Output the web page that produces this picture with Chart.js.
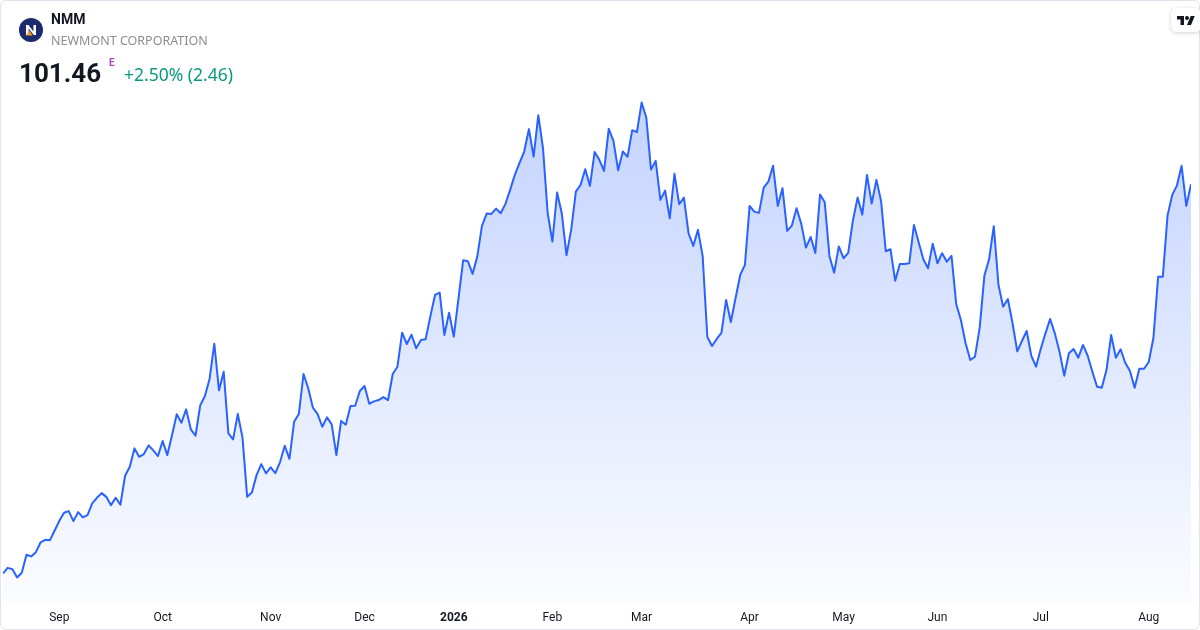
<!DOCTYPE html>
<html>
<head>
<meta charset="utf-8">
<title>NMM</title>
<script src="https://cdn.jsdelivr.net/npm/chart.js@4"></script>
<style>
  html, body { margin: 0; padding: 0; background: #fff; }
  body { width: 1200px; height: 630px; position: relative; overflow: hidden; font-family: Roboto, "Noto Sans", sans-serif; }
  .card { position: absolute; left: 0; top: 0; width: 1200px; height: 630px; box-sizing: border-box; border: 1px solid #e0e3eb; border-radius: 6px; }
  #chart { position: absolute; left: 0; top: 0; }
  .logo { position: absolute; left: 19px; top: 18px; width: 24px; height: 24px; }
  .ticker { position: absolute; left: 51px; top: 11px; font-size: 14px; font-weight: bold; color: #131722; }
  .name { position: absolute; left: 51px; top: 32px; font-family: "Noto Sans", sans-serif; font-size: 12.5px; color: #8a8d96; }
  .price { position: absolute; left: 19px; top: 58px; font-size: 26px; font-weight: bold; color: #131722; }
  .flag { position: absolute; left: 109px; top: 57px; font-size: 10px; font-weight: bold; color: #ab47bc; }
  .change { position: absolute; left: 124px; top: 62px; font-family: "Noto Sans", sans-serif; font-size: 17.5px; color: #089981; }
  .tv { position: absolute; left: 1171px; top: 8px; width: 30px; height: 24px; background: #fff; border-radius: 6px; box-shadow: 0 1px 4px rgba(0,0,0,0.18); }
  .tv svg { position: absolute; left: 6px; top: 6px; }
</style>
</head>
<body>
<div class="card"></div>
<canvas id="chart" width="1200" height="630"></canvas>

<svg class="logo" viewBox="0 0 24 24">
  <circle cx="12" cy="12" r="12" fill="#1c2a6e"/>
  <path d="M7 17V7h2.4l5 6.6V7H17v10h-2.3L9.6 10.3V17z" fill="#fff"/>
  <path d="M7.2 17.6l3.2-5 3.2 5z" fill="#f59a2c"/>
</svg>
<div class="ticker">NMM</div>
<div class="name">NEWMONT CORPORATION</div>
<div class="price">101.46</div>
<div class="flag">E</div>
<div class="change">+2.50% (2.46)</div>
<div class="tv">
  <svg width="18" height="12" viewBox="0 0 36 24">
    <path d="M14 22H7V11H0V4h14v18zM28 22h-8l7.5-18h8L28 22z" fill="#131722"/>
    <circle cx="20" cy="8" r="4" fill="#131722"/>
  </svg>
</div>

<script>
// daily closes (Aug 2025 -> Aug 2026)
const closes = [
  57.35, 57.98, 57.83, 56.89, 57.42, 59.46, 59.28, 59.76, 60.86, 61.16,
  61.12, 62.22, 63.31, 64.22, 64.41, 63.28, 64.30, 63.70, 63.96, 65.29,
  65.92, 66.45, 66.03, 65.09, 65.92, 65.13, 68.42, 69.44, 71.52, 70.57,
  70.88, 71.86, 71.30, 70.65, 72.35, 70.76, 73.03, 75.38, 74.43, 75.94,
  73.68, 72.95, 76.40, 77.45, 79.42, 83.38, 78.10, 80.21, 73.22, 72.54,
  75.41, 72.77, 66.03, 66.53, 68.49, 69.74, 68.69, 69.37, 68.72, 69.97,
  71.82, 70.34, 74.54, 75.41, 79.95, 78.33, 76.13, 75.41, 73.97, 75.04,
  74.24, 70.76, 74.62, 74.20, 76.32, 76.35, 78.02, 78.59, 76.58, 76.85,
  77.00, 77.34, 77.00, 79.95, 80.78, 84.63, 83.35, 84.40, 82.86, 83.80,
  83.88, 86.45, 88.91, 89.17, 84.37, 86.90, 84.18, 88.53, 92.84, 92.73,
  91.29, 93.25, 96.73, 98.13, 98.09, 98.69, 98.17, 99.23, 100.81, 102.51,
  103.88, 105.16, 107.70, 104.59, 109.28, 105.54, 98.17, 94.95, 100.51, 98.17,
  93.41, 96.28, 100.62, 101.38, 103.16, 101.27, 105.12, 104.22, 102.97, 107.73,
  106.37, 103.05, 105.16, 104.56, 107.58, 107.36, 110.71, 109.01, 103.12, 104.10,
  99.68, 100.73, 97.60, 102.63, 99.19, 99.94, 95.90, 94.46, 96.28, 93.33,
  84.14, 83.12, 83.92, 84.60, 88.34, 85.84, 88.53, 91.17, 92.31, 99.00,
  98.35, 98.21, 101.07, 101.75, 103.54, 99.00, 101.01, 96.16, 96.77, 98.74,
  96.96, 94.27, 95.48, 93.67, 100.30, 99.42, 93.33, 91.44, 94.41, 93.07,
  93.67, 97.35, 99.94, 98.01, 102.51, 99.26, 101.95, 99.57, 93.86, 94.09,
  90.53, 92.42, 92.42, 92.50, 96.84, 94.88, 92.95, 91.93, 94.72, 92.50,
  93.64, 92.68, 93.33, 87.89, 86.07, 83.43, 81.54, 81.91, 85.20, 91.10,
  92.95, 96.70, 90.04, 87.58, 88.45, 85.70, 82.52, 83.69, 84.82, 81.99,
  80.78, 82.78, 84.56, 86.19, 84.56, 82.48, 79.76, 82.30, 82.78, 81.80,
  83.24, 82.02, 80.21, 78.51, 78.39, 80.40, 84.37, 81.80, 82.75, 81.23,
  80.29, 78.39, 80.55, 80.55, 81.31, 84.06, 90.98, 90.98, 97.90, 100.25,
  101.30, 103.54, 99.00, 101.46
];

// month labels and the bar index where each month starts
const monthLabels = ['Sep', 'Oct', 'Nov', 'Dec', '2026', 'Feb', 'Mar', 'Apr', 'May', 'Jun', 'Jul', 'Aug'];
const monthTicks = [12, 34, 57, 77, 96, 117, 136, 159, 179, 199, 221, 244];

// price range shown on the (hidden) y axis
const priceMin = 54;
const priceMax = 111;

document.addEventListener('DOMContentLoaded', function() {
  Chart.defaults.font.family = 'Roboto, "Noto Sans", sans-serif';

  const points = closes.map(function(v, i) { return { x: i, y: v }; });

  const ctx = document.getElementById('chart').getContext('2d');
  new Chart(ctx, {
    type: 'line',
    data: {
      datasets: [{
        data: points,
        borderColor: '#2962ff',
        borderWidth: 2,
        pointRadius: 0,
        tension: 0,
        borderJoinStyle: 'round',
        fill: 'start',
        backgroundColor: function(c) {
          const area = c.chart.chartArea;
          if (!area) return 'rgba(41,98,255,0.1)';
          const g = c.chart.ctx.createLinearGradient(0, area.top, 0, area.bottom);
          g.addColorStop(0, 'rgba(41,98,255,0.28)');
          g.addColorStop(1, 'rgba(41,98,255,0.02)');
          return g;
        }
      }]
    },
    options: {
      responsive: false,
      devicePixelRatio: 1,
      animation: false,
      layout: { padding: { top: 100, left: 3, right: 9, bottom: 0 } },
      scales: {
        x: {
          type: 'linear',
          min: 0,
          max: closes.length - 1,
          grid: { display: false, drawTicks: false },
          border: { display: false },
          afterBuildTicks: function(scale) {
            scale.ticks = monthTicks.map(function(v) { return { value: v }; });
          },
          afterFit: function(scale) { scale.height = 27; },
          ticks: {
            autoSkip: false,
            maxRotation: 0,
            padding: 8,
            color: '#131722',
            font: function(c) {
              const isYear = c.tick && c.tick.value === monthTicks[4];
              return { size: 12, weight: isYear ? 'bold' : 'normal' };
            },
            callback: function(value) {
              return monthLabels[monthTicks.indexOf(value)];
            }
          }
        },
        y: {
          display: false,
          min: priceMin,
          max: priceMax
        }
      },
      plugins: {
        legend: { display: false },
        tooltip: { enabled: false }
      }
    }
  });
});
</script>
</body>
</html>
